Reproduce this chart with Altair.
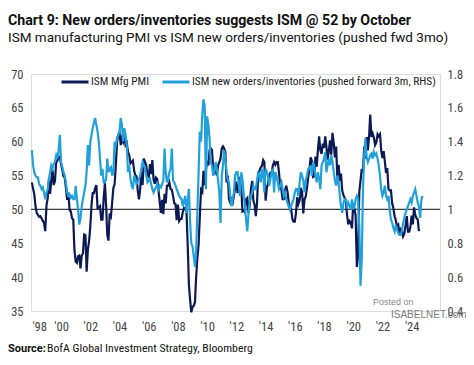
import altair as alt
import pandas as pd

# ---------------- data (monthly) ----------------
series_names = ["ISM Mfg PMI", "ISM new orders/inventories (pushed forward 3m, RHS)"]
series_colors = ["#0b1a55", "#22a0dc"]

# ISM manufacturing PMI, Jan 1998 .. Jul 2024
pmi_values = [
    54.0, 53.0, 52.3, 50.5, 49.5, 49.2, 48.9, 49.0, 48.7, 48.3, 48.0, 46.8,
    50.6, 51.7, 54.3, 52.3, 54.3, 55.8, 53.6, 54.2, 57.0, 57.2, 57.8, 57.8,
    56.7, 55.8, 54.9, 54.7, 53.2, 51.4, 52.5, 49.9, 49.7, 48.7, 48.5, 43.9,
    42.3, 42.1, 43.1, 43.2, 41.3, 43.2, 43.5, 46.3, 46.2, 40.8, 44.1, 45.3,
    47.5, 50.7, 52.4, 52.4, 53.1, 53.6, 50.2, 50.3, 50.5, 48.5, 48.5, 51.6,
    53.9, 50.5, 46.2, 45.4, 49.4, 49.0, 51.0, 53.2, 53.7, 56.5, 60.0, 61.0,
    61.4, 59.5, 60.5, 60.0, 61.0, 59.5, 59.8, 58.5, 58.0, 56.8, 57.0, 57.2,
    55.7, 55.0, 54.9, 52.8, 51.5, 53.0, 55.5, 53.6, 57.5, 57.0, 56.5, 55.0,
    54.8, 56.7, 55.2, 57.3, 54.4, 53.8, 54.7, 54.5, 52.9, 51.2, 49.5, 51.4,
    49.3, 52.3, 50.9, 53.5, 53.5, 54.0, 53.0, 52.9, 52.0, 50.9, 50.8, 48.4,
    50.7, 48.3, 48.6, 48.6, 49.6, 50.2, 50.0, 49.9, 44.8, 38.9, 36.6, 34.8,
    35.6, 35.8, 36.3, 40.1, 42.8, 44.8, 48.9, 52.9, 52.6, 55.7, 53.6, 55.9,
    57.2, 56.5, 58.8, 59.0, 58.8, 56.0, 55.5, 56.0, 55.0, 56.5, 57.0, 57.5,
    59.0, 59.3, 59.0, 58.5, 54.0, 55.0, 51.5, 51.0, 51.5, 51.0, 52.0, 53.0,
    54.1, 52.4, 53.4, 54.8, 53.5, 49.7, 49.8, 49.6, 51.5, 51.7, 49.5, 50.7,
    53.1, 54.2, 51.3, 50.7, 49.0, 50.9, 55.4, 55.7, 56.2, 56.4, 57.3, 57.0,
    51.3, 53.2, 53.7, 54.9, 55.4, 55.3, 56.5, 57.0, 56.6, 57.0, 57.0, 55.5,
    53.5, 52.9, 51.5, 51.5, 52.8, 53.5, 52.7, 51.1, 50.2, 50.1, 48.6, 48.2,
    48.2, 49.5, 51.8, 50.8, 51.3, 53.2, 52.6, 49.4, 51.5, 51.9, 53.2, 54.7,
    56.0, 57.7, 57.2, 54.8, 54.9, 57.8, 56.3, 58.8, 60.8, 58.7, 58.2, 59.7,
    59.1, 60.8, 59.3, 57.3, 58.7, 60.2, 58.1, 61.3, 59.8, 57.7, 59.3, 54.3,
    56.6, 54.2, 55.3, 52.8, 52.1, 51.7, 51.2, 49.1, 47.8, 48.3, 48.1, 47.2,
    50.9, 50.1, 49.1, 41.5, 43.1, 52.6, 54.2, 56.0, 55.4, 59.3, 57.5, 60.7,
    58.7, 60.8, 64.0, 60.7, 61.2, 60.6, 59.5, 59.9, 61.1, 60.8, 61.1, 58.7,
    57.6, 58.6, 57.1, 55.4, 56.1, 53.0, 52.8, 52.8, 50.9, 50.2, 49.0, 48.4,
    47.4, 47.7, 46.3, 47.1, 46.9, 46.0, 46.4, 47.6, 49.0, 46.7, 46.7, 47.4,
    49.1, 47.8, 50.3, 49.2, 48.7, 48.5, 46.8,
]

# ISM new orders / inventories ratio, pushed forward 3m, Jan 1998 .. Oct 2024
ratio_values = [
    1.35, 1.26, 1.22, 1.20, 1.19, 1.19, 1.15, 1.14, 1.12, 1.13, 1.10, 1.06,
    1.10, 1.12, 1.18, 1.22, 1.26, 1.24, 1.27, 1.28, 1.32, 1.30, 1.35, 1.44,
    1.28, 1.25, 1.22, 1.20, 1.16, 1.10, 1.08, 1.09, 1.07, 1.08, 1.06, 1.06,
    1.14, 1.06, 1.00, 0.91, 0.95, 1.02, 1.06, 1.10, 1.14, 1.22, 1.38, 1.26,
    1.40, 1.44, 1.48, 1.51, 1.54, 1.50, 1.46, 1.40, 1.30, 1.20, 1.24, 1.16,
    1.16, 1.18, 1.30, 1.22, 1.24, 1.25, 1.20, 1.22, 1.40, 1.38, 1.42, 1.44,
    1.46, 1.54, 1.50, 1.40, 1.48, 1.44, 1.38, 1.22, 1.26, 1.18, 1.14, 1.12,
    1.20, 1.18, 1.15, 1.16, 1.18, 1.20, 1.24, 1.28, 1.26, 1.24, 1.20, 1.16,
    1.17, 1.18, 1.15, 1.12, 1.10, 1.12, 1.13, 1.15, 1.12, 1.14, 1.13, 1.15,
    1.17, 1.36, 1.22, 1.16, 1.18, 1.22, 1.24, 1.36, 1.17, 1.16, 1.14, 1.12,
    1.10, 1.08, 1.07, 1.06, 1.02, 1.05, 1.08, 0.98, 1.05, 1.12, 0.92, 0.80,
    0.78, 0.72, 0.66, 0.76, 0.98, 1.22, 1.46, 1.40, 1.56, 1.65, 1.61, 1.12,
    1.55, 1.50, 1.42, 1.28, 1.26, 1.20, 1.22, 1.28, 1.24, 1.17, 1.10, 0.92,
    1.20, 1.26, 1.35, 1.30, 1.22, 1.17, 1.16, 1.08, 1.02, 1.06, 1.10, 1.20,
    1.22, 1.22, 1.15, 1.08, 1.22, 1.18, 1.10, 1.02, 0.94, 0.87, 0.98, 1.05,
    1.08, 1.10, 1.14, 1.12, 1.12, 1.17, 1.22, 1.20, 1.16, 1.24, 1.22, 1.10,
    1.24, 1.22, 1.20, 1.14, 1.18, 1.22, 1.24, 1.10, 1.22, 1.20, 1.16, 1.12,
    1.14, 1.16, 1.12, 1.08, 1.10, 1.06, 1.04, 1.02, 1.00, 1.02, 1.04, 1.06,
    1.10, 1.12, 1.12, 1.08, 1.16, 1.22, 1.20, 1.17, 1.10, 1.17, 1.20, 1.24,
    1.24, 1.26, 1.20, 1.28, 1.26, 1.20, 1.16, 1.22, 1.18, 1.12, 1.26, 1.28,
    1.30, 1.34, 1.22, 1.26, 1.30, 1.26, 1.32, 1.28, 1.22, 1.17, 1.14, 1.20,
    1.16, 1.08, 1.02, 0.98, 1.04, 1.06, 1.06, 1.02, 1.04, 1.02, 1.00, 1.06,
    1.00, 1.02, 1.06, 1.08, 1.06, 0.90, 0.55, 0.70, 1.12, 1.32, 1.42, 1.31,
    1.28, 1.30, 1.32, 1.33, 1.30, 1.34, 1.32, 1.33, 1.30, 1.26, 1.20, 1.12,
    1.08, 1.10, 1.14, 1.08, 1.06, 1.08, 1.00, 0.94, 0.92, 0.89, 0.87, 0.91,
    0.88, 0.86, 0.85, 0.85, 0.87, 0.92, 0.95, 0.98, 1.00, 1.02, 1.04, 1.06,
    1.04, 1.08, 1.10, 1.12, 1.08, 1.04, 1.02, 0.95, 1.06, 1.08,
]

left_ticks = [35, 40, 45, 50, 55, 60, 65, 70]
right_ticks = [0.4, 0.6, 0.8, 1.0, 1.2, 1.4, 1.6, 1.8]
year_ticks = list(range(1998, 2025, 2))
threshold = [50]

title_text = "Chart 9: New orders/inventories suggests ISM @ 52 by October"
subtitle_text = "ISM manufacturing PMI vs ISM new orders/inventories (pushed fwd 3mo)"
source_bold = "Source:"
source_text = "BofA Global Investment Strategy, Bloomberg"

# ---------------- build ----------------
NARROW = "Roboto Condensed, Liberation Sans Narrow, Roboto, sans-serif"
WIDE = "Roboto, sans-serif"
PLOT_L, PLOT_T = 31, 74  # page position of plot origin (8px page margin + padding)

df_pmi = pd.DataFrame({
    "date": pd.date_range("1998-01-01", periods=len(pmi_values), freq="MS").strftime("%Y-%m-%d"),
    "value": pmi_values,
    "series": series_names[0],
})
df_ratio = pd.DataFrame({
    "date": pd.date_range("1998-01-01", periods=len(ratio_values), freq="MS").strftime("%Y-%m-%d"),
    "value": ratio_values,
    "series": series_names[1],
})

axis_common = dict(domain=False, ticks=False, grid=False, labelFont=NARROW,
                   labelFontSize=12.5, labelColor="#444", title=None, labelOverlap=False)

x_enc = alt.X(
    "date:T",
    scale=alt.Scale(domain=["1997-12-10", "2025-12-10"]),
    axis=alt.Axis(values=[alt.DateTime(year=y, month=1, date=1) for y in year_ticks],
                  format="'%y", labelPadding=9, **axis_common),
)

color_enc = alt.Color(
    "series:N",
    scale=alt.Scale(domain=series_names, range=series_colors),
    legend=alt.Legend(orient="none", legendX=29, legendY=-7, direction="horizontal",
                      title=None, symbolType="stroke", symbolSize=729,
                      symbolStrokeWidth=3, labelFont=NARROW, labelFontSize=11.4,
                      labelColor="#222", columnPadding=6, labelOffset=1, padding=0,
                      labelLimit=400),
)

left_scale = alt.Scale(domain=[35, 70], zero=False, nice=False)
left_axis = alt.Axis(values=left_ticks, orient="left", labelPadding=8, **axis_common)

pmi_line = alt.Chart(df_pmi).mark_line(strokeWidth=2.2).encode(
    x=x_enc,
    y=alt.Y("value:Q", scale=left_scale, axis=left_axis),
    color=color_enc,
)
rule50 = alt.Chart(pd.DataFrame({"value": threshold})).mark_rule(
    color="#3a3a3a", strokeWidth=1.2
).encode(y=alt.Y("value:Q", scale=left_scale, axis=left_axis))
left_group = alt.layer(rule50, pmi_line)

ratio_line = alt.Chart(df_ratio).mark_line(strokeWidth=2.2).encode(
    x=x_enc,
    y=alt.Y("value:Q", scale=alt.Scale(domain=[0.4, 1.8], zero=False, nice=False),
            axis=alt.Axis(values=right_ticks, orient="right", format="~g", labelPadding=7,
                          **axis_common)),
    color=color_enc,
)


def label(txt, px, py, size, weight="normal", color="#111", font=NARROW):
    return alt.Chart(pd.DataFrame({"t": [txt]})).mark_text(
        align="left", baseline="alphabetic", fontSize=size, fontWeight=weight,
        font=font, color=color,
    ).encode(x=alt.value(px - PLOT_L), y=alt.value(py - PLOT_T), text="t:N")


texts = [
    label(title_text, 8, 25, 14.2, "bold", font=WIDE),
    label(subtitle_text, 8, 42, 13.5, font=WIDE),
    label(source_bold, 8, 352, 11, "bold", font=WIDE),
    label(source_text, 47, 352, 11.8),
    label("Posted on", 373, 305, 9, color="#8a8a8a", font="Liberation Sans, Arial"),
    label("ISABELNET.com", 391, 318, 10, color="#7a7a7a", font="Liberation Sans, Arial"),
]

chart = alt.layer(left_group, ratio_line, *texts).resolve_scale(
    y="independent"
).properties(
    width=409, height=237,
    autosize=alt.AutoSizeParams(type="none"),
    padding={"left": 23, "top": 66, "right": 26, "bottom": 48},
).configure_view(stroke=None).configure(background="white")

chart.save("out.html", embed_options={"renderer": "svg", "actions": False})
